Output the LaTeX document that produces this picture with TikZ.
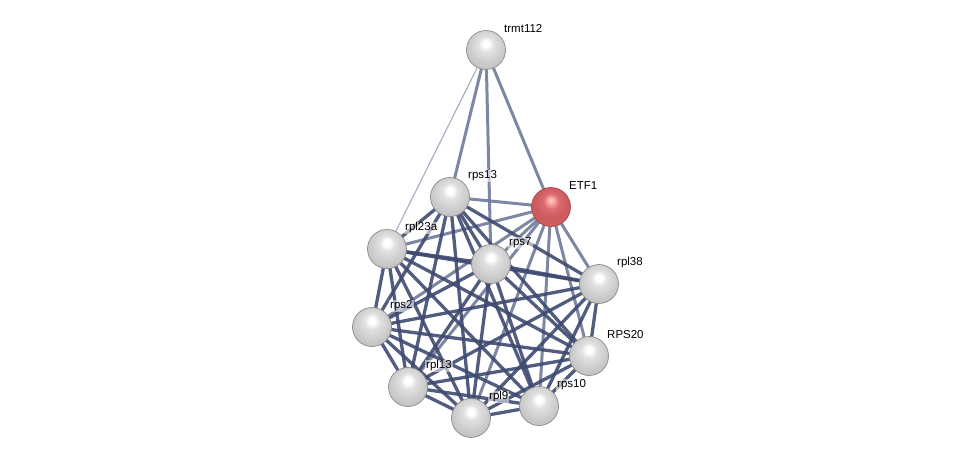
\documentclass[tikz,border=0pt]{standalone}
\usepackage{fontspec}
\setmainfont{Liberation Sans}
\definecolor{edgeA}{RGB}{62,74,112}
\definecolor{edgeB}{RGB}{112,122,152}
\definecolor{edgeC}{RGB}{170,176,196}
\pgfdeclareradialshading{greysphere}{\pgfpoint{0bp}{9bp}}{%
  color(0bp)=(white); color(4bp)=(white); color(10bp)=(black!12); color(20bp)=(black!19);
  color(28bp)=(black!24); color(32bp)=(black!14); color(35bp)=(black!50); color(50bp)=(black!50)}
\pgfdeclareradialshading{redsphere}{\pgfpoint{0bp}{9bp}}{%
  color(0bp)=(white!80!red); color(4bp)=(white!65!red); color(10bp)=(rgb,255:red,218;green,108;blue,112);
  color(20bp)=(rgb,255:red,205;green,90;blue,95); color(28bp)=(rgb,255:red,205;green,92;blue,96);
  color(32bp)=(rgb,255:red,236;green,140;blue,140); color(35bp)=(rgb,255:red,140;green,50;blue,55);
  color(50bp)=(rgb,255:red,140;green,50;blue,55)}
\tikzset{
  prot/.style={circle, minimum size=39pt, inner sep=0pt, shading=greysphere, draw=black!45, line width=0.7pt},
  etf/.style={prot, shading=redsphere, draw=red!50!black!70},
  lbl/.style={anchor=west, font=\fontsize{11.5pt}{13pt}\selectfont, inner sep=1pt, fill=white, fill opacity=0.55, text opacity=1},
  strong/.style={draw=edgeA, line width=3.3pt, opacity=0.9},
  medium/.style={draw=edgeB, line width=3pt, opacity=0.9},
  weak/.style={draw=edgeC, line width=1.2pt}
}
\begin{document}
\begin{tikzpicture}[x=1pt,y=-1pt]
\useasboundingbox (0,0) rectangle (975,463);
\coordinate (trmt112) at (486,50);
\coordinate (ETF1) at (551,207);
\coordinate (rps13) at (450,197);
\coordinate (rpl23a) at (387,249);
\coordinate (rps7) at (491,264);
\coordinate (rpl38) at (599,284);
\coordinate (rps2) at (372,327);
\coordinate (RPS20) at (589,356);
\coordinate (rpl13) at (408,387);
\coordinate (rpl9) at (471,418);
\coordinate (rps10) at (539,406);
% trmt112 edges
\draw[weak] (trmt112) -- (rpl23a);
\draw[medium] (trmt112) -- (rps13);
\draw[medium] (trmt112) -- (rps7);
\draw[medium] (trmt112) -- (ETF1);
% ETF1 edges
\foreach \b in {rps13,rpl23a,rps7,rpl38,rps2,RPS20,rpl13,rpl9,rps10}
  \draw[medium] (ETF1) -- (\b);
% ribosomal edges
\foreach \a/\b in {rps13/rpl23a,rps13/rps7,rps13/rpl38,rps13/rps2,rps13/RPS20,rps13/rpl13,rps13/rpl9,rps13/rps10,
  rpl23a/rps7,rpl23a/rpl38,rpl23a/rps2,rpl23a/RPS20,rpl23a/rpl13,rpl23a/rpl9,rpl23a/rps10,
  rps7/rpl38,rps7/rps2,rps7/RPS20,rps7/rpl13,rps7/rpl9,rps7/rps10,
  rpl38/rps2,rpl38/RPS20,rpl38/rpl13,rpl38/rpl9,rpl38/rps10,
  rps2/RPS20,rps2/rpl13,rps2/rpl9,rps2/rps10,
  RPS20/rpl13,RPS20/rpl9,RPS20/rps10,
  rpl13/rpl9,rpl13/rps10,rpl9/rps10}
  \draw[strong] (\a) -- (\b);
% nodes
\foreach \n in {trmt112,rps13,rpl23a,rps7,rpl38,rps2,RPS20,rpl13,rpl9,rps10}
  \node[prot] (n-\n) at (\n) {};
\node[etf] (n-ETF1) at (ETF1) {};
% labels
\foreach \n in {trmt112,ETF1,rps13,rpl23a,rps7,rpl38,rps2,RPS20,rpl13,rpl9,rps10}
  \node[lbl] (l-\n) at ([shift={(17,-21)}]\n) {\n};
\end{tikzpicture}
\end{document}
